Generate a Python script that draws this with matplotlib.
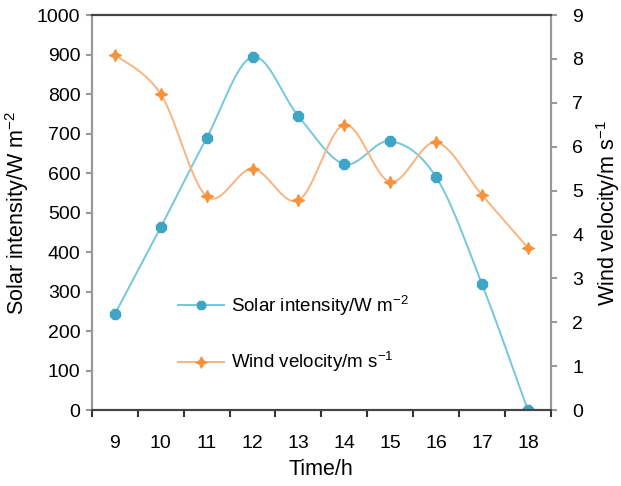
import numpy as np
import matplotlib
matplotlib.use("Agg")
import matplotlib.pyplot as plt
from matplotlib.lines import Line2D

plt.rcParams['font.family'] = ['Liberation Sans', 'DejaVu Sans']
plt.rcParams['mathtext.fontset'] = 'custom'
plt.rcParams['mathtext.rm'] = 'Liberation Sans'
plt.rcParams['mathtext.default'] = 'regular'

# data
hours = [9, 10, 11, 12, 13, 14, 15, 16, 17, 18]
solar = [243, 463, 689, 894, 744, 623, 681, 590, 319, 0]
wind = [8.1, 7.2, 4.87, 5.5, 4.78, 6.5, 5.2, 6.1, 4.9, 3.7]

solar_line = '#74c7dd'
solar_mark = '#3ea5c4'
wind_line = '#f9b47f'
wind_mark = '#f7923a'
star = [(0, 1), (0.32, 0.32), (1, 0), (0.32, -0.32), (0, -1), (-0.32, -0.32), (-1, 0), (-0.32, 0.32), (0, 1)]
tick_fs = 14
label_fs = 15.5
legend_fs = 13.5


def smooth(x, y, n=30):
    # catmull-rom style smoothing like spreadsheet "smoothed line"
    p = np.column_stack([x, y]).astype(float)
    p = np.vstack([p[0], p, p[-1]])
    out = []
    t = np.linspace(0, 1, n)[:, None]
    for i in range(1, len(p) - 2):
        p0, p1, p2, p3 = p[i - 1], p[i], p[i + 1], p[i + 2]
        c1 = p1 + (p2 - p0) / 6
        c2 = p2 - (p3 - p1) / 6
        seg = (1 - t) ** 3 * p1 + 3 * (1 - t) ** 2 * t * c1 + 3 * (1 - t) * t ** 2 * c2 + t ** 3 * p2
        out.append(seg if i == 1 else seg[1:])
    out = np.vstack(out)
    return out[:, 0], out[:, 1]


fig = plt.figure(figsize=(6.21, 4.86), dpi=100)
ax = fig.add_subplot(111)
fig.subplots_adjust(left=0.148, right=0.887, top=0.969, bottom=0.156)
ax2 = ax.twinx()

sx, sy = smooth(hours, solar)
ax.plot(sx, sy, color=solar_line, lw=1.4, zorder=3)
ax.plot(hours, solar, ls='none', marker='8', ms=7.5, color=solar_mark, zorder=4)

wx, wy = smooth(hours, wind)
ax2.plot(wx, wy, color=wind_line, lw=1.4)
ax2.plot(hours, wind, ls='none', marker=star, ms=8.5, color=wind_mark)

ax.set_xlim(8.5, 18.5)
ax.set_ylim(0, 1000)
ax2.set_ylim(0, 9)
ax.set_yticks(np.arange(0, 1001, 100))
ax2.set_yticks(np.arange(0, 10, 1))
ax.set_xticks(np.arange(8.5, 18.6, 1))
ax.set_xticklabels([])
ax.set_xticks(hours, minor=True)
ax.set_xticklabels([str(h) for h in hours], minor=True)
ax.tick_params(axis='x', which='major', length=5, width=1.5, color='#333333', direction='out')
ax.tick_params(axis='x', which='minor', length=0, pad=18, labelsize=tick_fs)
ax.tick_params(axis='y', length=4.3, width=1.5, color='#999999', pad=4, labelsize=tick_fs)
ax2.tick_params(axis='y', length=4.3, width=1.5, color='#999999', pad=11, labelsize=tick_fs)

for a in (ax, ax2):
    a.spines['left'].set_color('#999999')
    a.spines['right'].set_color('#999999')
    a.spines['top'].set_color('#444444')
    a.spines['bottom'].set_color('#444444')
    for s in a.spines.values():
        s.set_linewidth(1.5)

ax.set_xlabel('Time/h', fontsize=label_fs, labelpad=5)
ax.set_ylabel('Solar intensity/W m$^{-2}$', fontsize=label_fs, labelpad=4)
ax2.set_ylabel('Wind velocity/m s$^{-1}$', fontsize=label_fs, labelpad=8)

handles = [
    Line2D([], [], color=solar_line, lw=1.4, marker='8', ms=7, mfc=solar_mark, mec=solar_mark),
    Line2D([], [], color=wind_line, lw=1.4, marker=star, ms=8, mfc=wind_mark, mec=wind_mark),
]
ax2.legend(handles, ['Solar intensity/W m$^{-2}$', 'Wind velocity/m s$^{-1}$'],
           loc='lower left', bbox_to_anchor=(0.150, 0.048), frameon=False,
           fontsize=legend_fs, handlelength=2.5, labelspacing=1.72, handletextpad=0.37)

fig.savefig('out.png', dpi=100)
